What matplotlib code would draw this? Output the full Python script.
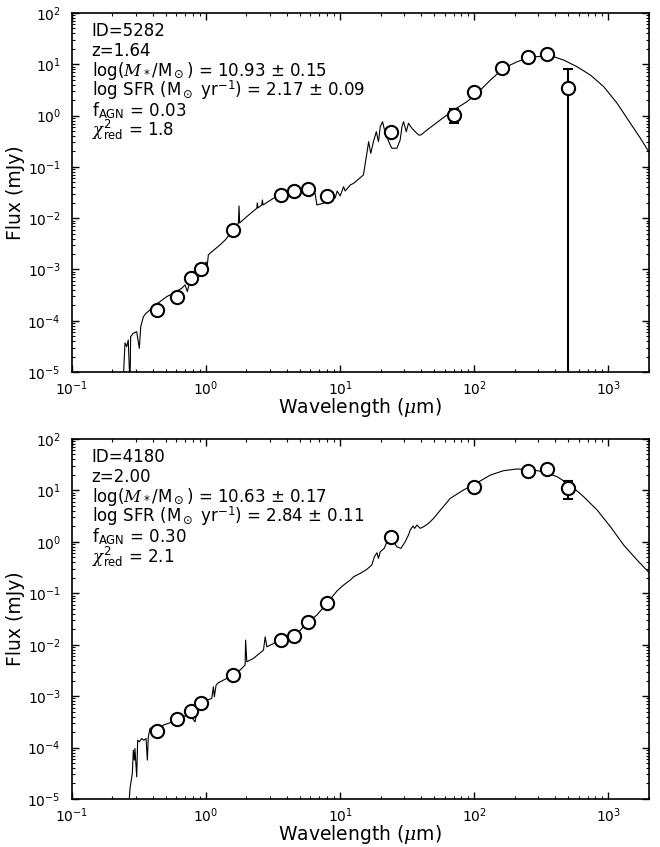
"""SED fits for two sources: model spectrum plus observed photometry."""
import matplotlib
matplotlib.use("Agg")
import matplotlib.pyplot as plt
import numpy as np

plt.rcParams["font.family"] = ["DejaVu Sans"]
plt.rcParams["mathtext.fontset"] = "custom"
plt.rcParams["mathtext.rm"] = "DejaVu Sans"
plt.rcParams["mathtext.it"] = "DejaVu Serif:italic"
plt.rcParams["mathtext.bf"] = "DejaVu Sans:bold"

# ---- source 5282 ----
lam_obs_5282 = [0.43, 0.61, 0.77, 0.91, 1.6, 3.6, 4.5, 5.8, 8.0, 24, 70, 100, 160, 250, 350, 500]
flux_obs_5282 = [1.63e-4, 2.87e-4, 6.7e-4, 1.04e-3, 5.9e-3, 0.0287, 0.0344, 0.0366, 0.0271,
                 0.48, 1.03, 2.85, 8.4, 14.1, 15.9, 3.4]
err_obs_5282 = [0, 0, 0, 0, 0, 0, 0, 0, 0, 0, 0.31, 0, 0, 0, 0, 4.6]

lam_model_5282 = [0.240, 0.2486, 0.256, 0.263, 0.271, 0.274, 0.287, 0.304, 0.318, 0.326,
                  0.341, 0.357, 0.382, 0.416, 0.454, 0.509, 0.570, 0.659, 0.697, 0.725,
                  0.760, 0.853, 0.955, 1.0, 1.017, 1.04, 1.07, 1.27, 1.39, 1.556,
                  1.742, 1.762, 1.78, 2.01, 2.39, 2.41, 2.44, 2.60, 2.63, 2.66,
                  3.18, 3.56, 4.48, 5.80, 6.50, 6.70, 7.50, 8.41, 8.86, 9.18,
                  9.50, 10.0, 10.6, 10.9, 11.9, 12.6, 14.9, 15.6, 16.3, 16.9,
                  17.7, 18.6, 19.3, 19.9, 20.7, 21.7, 23.6, 24.3, 26.5, 28.0,
                  28.9, 29.7, 31.1, 32.3, 34.3, 36.3, 38.4, 40.0, 44.4, 55.7,
                  70.1, 88.2, 105, 132, 165, 208, 262, 329, 391, 464,
                  584, 734, 923, 1161, 1459, 1733, 2034]
flux_model_5282 = [5e-6, 3.69e-5, 3.13e-5, 4.2e-5, 5e-6, 4.9e-5, 5.7e-5, 6.1e-5, 2.9e-5, 7.7e-5,
                   1.20e-4, 1.40e-4, 1.63e-4, 2.03e-4, 2.36e-4, 2.95e-4, 3.43e-4, 4.3e-4, 5.0e-4, 3.7e-4,
                   6.2e-4, 8.4e-4, 1.13e-3, 1.40e-3, 1.07e-3, 1.92e-3, 2.07e-3, 3.0e-3, 3.76e-3, 5.46e-3,
                   7.96e-3, 0.0173, 8.05e-3, 0.0107, 0.0156, 0.0198, 0.0158, 0.0181, 0.0226, 0.0181,
                   0.0244, 0.0283, 0.0344, 0.0366, 0.0305, 0.0181, 0.0195, 0.0226, 0.031, 0.0248,
                   0.0339, 0.0271, 0.0411, 0.0339, 0.0444, 0.0479, 0.0695, 0.147, 0.31, 0.184,
                   0.31, 0.485, 0.31, 0.608, 0.76, 0.452, 0.267, 0.231, 0.231, 0.334,
                   0.608, 0.76, 0.485, 0.708, 0.565, 0.485, 0.419, 0.419, 0.524, 0.82,
                   1.28, 1.87, 2.72, 4.94, 8.36, 11.2, 13.7, 14.5, 14.1, 12.1,
                   8.97, 6.18, 3.66, 1.74, 0.708, 0.361, 0.184]

labels_5282 = ["ID=5282",
               "z=1.64",
               r"log($M_*$/M$_\odot$) = 10.93 $\pm$ 0.15",
               r"log SFR (M$_\odot$ yr$^{-1}$) = 2.17 $\pm$ 0.09",
               r"f$_\mathrm{AGN}$ = 0.03",
               r"$\chi^2_\mathrm{red}$ = 1.8"]

# ---- source 4180 ----
lam_obs_4180 = [0.43, 0.61, 0.77, 0.91, 1.6, 3.6, 4.5, 5.8, 8.0, 24, 100, 250, 350, 500]
flux_obs_4180 = [2.08e-4, 3.57e-4, 5.1e-4, 7.3e-4, 2.56e-3, 0.0123, 0.0147, 0.0279, 0.0653,
                 1.24, 11.6, 23.8, 25.8, 11.1]
err_obs_4180 = [0, 0, 0, 0, 0, 0, 0, 0, 0, 0, 0, 0, 0, 4.2]

lam_model_4180 = [0.263, 0.271, 0.282, 0.287, 0.292, 0.295, 0.304, 0.309, 0.318, 0.331,
                  0.344, 0.357, 0.365, 0.371, 0.382, 0.404, 0.441, 0.480, 0.538, 0.604,
                  0.677, 0.718, 0.760, 0.828, 0.853, 0.918, 1.012, 1.103, 1.134, 1.153,
                  1.188, 1.235, 1.427, 1.599, 1.794, 1.955, 1.972, 2.013, 2.256, 2.68,
                  2.76, 2.84, 3.37, 3.57, 4.24, 4.62, 5.18, 5.80, 6.70, 7.96,
                  9.45, 10.6, 11.9, 12.6, 14.1, 15.8, 17.2, 18.0, 18.8, 19.3,
                  19.9, 21.3, 22.9, 23.9, 25.0, 26.5, 28.4, 30.5, 32.3, 33.3,
                  34.9, 35.9, 37.4, 39.5, 41.9, 45.6, 49.7, 55.7, 66.2, 83.2,
                  103, 132, 165, 208, 254, 329, 414, 520, 654, 824,
                  1035, 1300, 1636, 2033]
flux_model_4180 = [5e-6, 1.6e-5, 3.13e-5, 8.9e-5, 5.7e-5, 9.6e-5, 2.69e-5, 1.39e-4, 1.29e-4, 1.50e-4,
                   1.39e-4, 1.50e-4, 5.7e-5, 1.61e-4, 2.35e-4, 2.53e-4, 2.18e-4, 2.73e-4, 3.03e-4, 3.52e-4,
                   4.09e-4, 4.09e-4, 4.27e-4, 3.16e-4, 4.96e-4, 6.68e-4, 8.36e-4, 9.0e-4, 1.52e-3, 9.7e-4,
                   1.64e-3, 1.82e-3, 2.21e-3, 2.64e-3, 3.21e-3, 4.01e-3, 0.0123, 4.65e-3, 5.42e-3, 7.85e-3,
                   0.01426, 9.1e-3, 0.01138, 0.0123, 0.01387, 0.01469, 0.02075, 0.0279, 0.0377, 0.0637,
                   0.1104, 0.1445, 0.181, 0.2095, 0.2438, 0.2917, 0.354, 0.513, 0.614, 0.477,
                   0.641, 0.748, 1.17, 1.36, 1.0, 0.80, 0.748, 1.0, 1.36, 1.70,
                   2.03, 1.83, 2.12, 1.83, 1.97, 2.29, 2.86, 4.1, 7.01, 10.2,
                   13.7, 19.9, 24.2, 26.1, 25.7, 23.1, 18.5, 12.7, 7.54, 4.16,
                   1.97, 0.867, 0.443, 0.244]

labels_4180 = ["ID=4180",
               "z=2.00",
               r"log($M_*$/M$_\odot$) = 10.63 $\pm$ 0.17",
               r"log SFR (M$_\odot$ yr$^{-1}$) = 2.84 $\pm$ 0.11",
               r"f$_\mathrm{AGN}$ = 0.30",
               r"$\chi^2_\mathrm{red}$ = 2.1"]


def draw_sed(ax, lam_model, flux_model, lam_obs, flux_obs, err_obs, labels):
    ax.plot(lam_model, flux_model, color="black", lw=0.8, zorder=2)

    lam_obs = np.asarray(lam_obs)
    flux_obs = np.asarray(flux_obs)
    err_obs = np.asarray(err_obs)
    has_err = err_obs > 0
    ax.errorbar(lam_obs[has_err], flux_obs[has_err], yerr=err_obs[has_err], fmt="none",
                ecolor="black", elinewidth=1.5, capsize=3.5, capthick=1.5, zorder=3)
    ax.plot(lam_obs, flux_obs, "o", mfc="white", mec="black", ms=9.5, mew=1.5, zorder=4)

    ax.set_xscale("log")
    ax.set_yscale("log")
    ax.set_xlim(0.1, 2000)
    ax.set_ylim(1e-5, 1e2)
    ax.set_xlabel(r"Wavelength ($\mu$m)", fontsize=13.5)
    ax.set_ylabel("Flux (mJy)", fontsize=13.5)
    ax.xaxis.set_label_coords(0.5, -0.068)
    ax.yaxis.set_label_coords(-0.081, 0.5)
    ax.tick_params(which="both", direction="in", top=True, right=True, labelsize=10)
    ax.tick_params(axis="y", pad=8)
    ax.tick_params(axis="x", pad=5)
    ax.tick_params(which="major", length=5, width=1)
    ax.tick_params(which="minor", length=2.5, width=0.8)
    for spine in ax.spines.values():
        spine.set_linewidth(1.2)

    for i, text in enumerate(labels):
        ax.text(0.034, 0.935 - i * 0.0555, text, transform=ax.transAxes,
                fontsize=12, va="baseline", ha="left")


fig = plt.figure(figsize=(6.6, 8.47), dpi=100)
ax_top = fig.add_axes([0.109, 0.5608, 0.874, 0.4238])
ax_bot = fig.add_axes([0.109, 0.0567, 0.874, 0.425])

draw_sed(ax_top, lam_model_5282, flux_model_5282, lam_obs_5282, flux_obs_5282, err_obs_5282, labels_5282)
draw_sed(ax_bot, lam_model_4180, flux_model_4180, lam_obs_4180, flux_obs_4180, err_obs_4180, labels_4180)

fig.savefig("out.png", dpi=100)
